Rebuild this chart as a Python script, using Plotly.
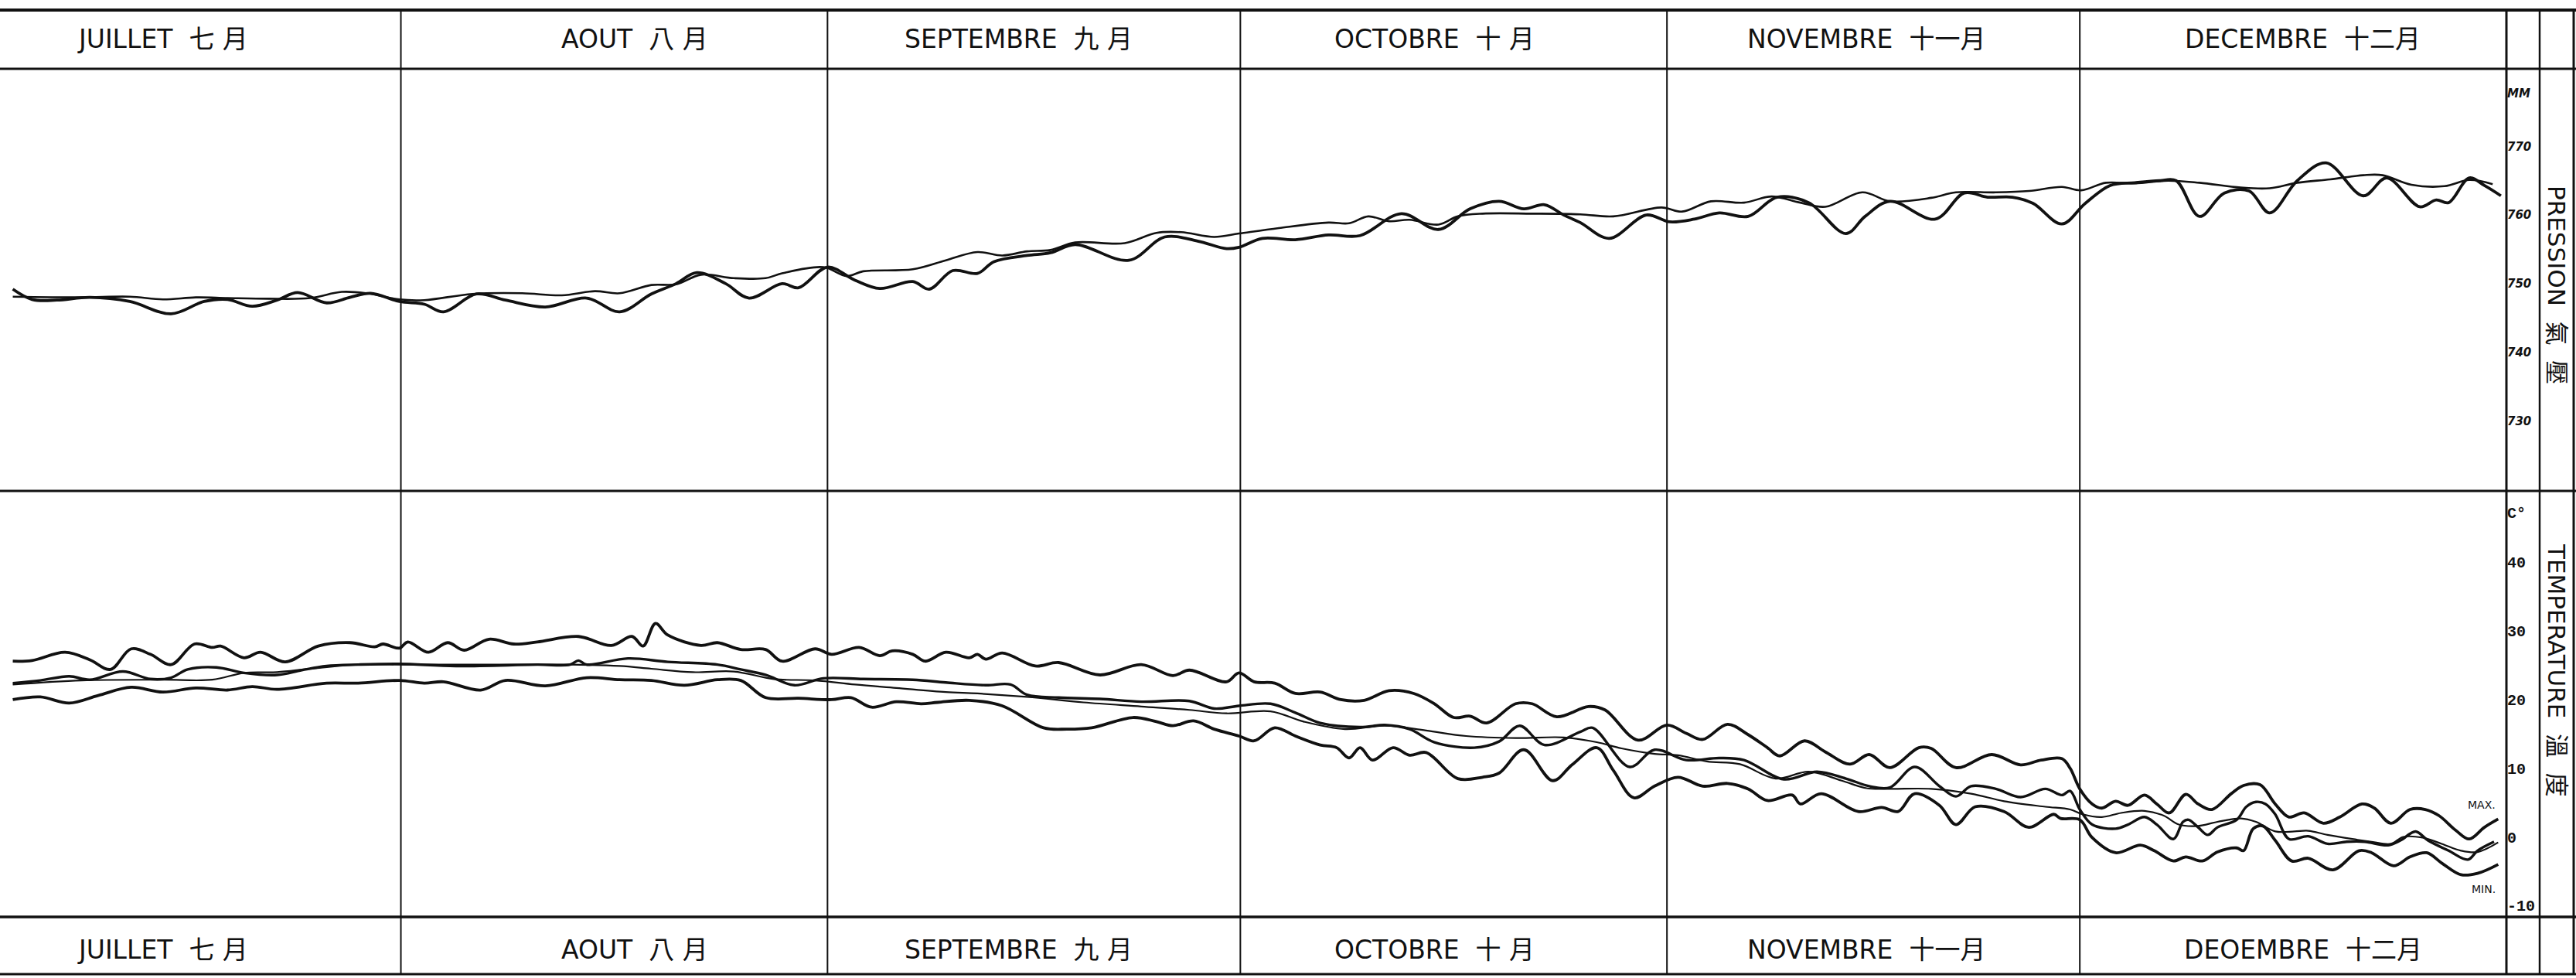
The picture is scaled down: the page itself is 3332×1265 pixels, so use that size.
import plotly.graph_objects as go

# ---------------- data (day of period: 0 = 1 July, 184 = 31 Dec end) ----------------
MONTH_STARTS = [0, 31, 62, 92, 123, 153, 184]
MONTHS_TOP = ["JUILLET\u00a0\u00a0七\u00a0月", "AOUT\u00a0\u00a0八\u00a0月", "SEPTEMBRE\u00a0\u00a0九\u00a0月",
              "OCTOBRE\u00a0\u00a0十\u00a0月", "NOVEMBRE\u00a0\u00a0十一月", "DECEMBRE\u00a0\u00a0十二月"]
MONTHS_BOTTOM = ["JUILLET\u00a0\u00a0七\u00a0月", "AOUT\u00a0\u00a0八\u00a0月", "SEPTEMBRE\u00a0\u00a0九\u00a0月",
                 "OCTOBRE\u00a0\u00a0十\u00a0月", "NOVEMBRE\u00a0\u00a0十一月", "DEOEMBRE\u00a0\u00a0十二月"]
MONTH_LABEL_DAY = [13.7, 48.0, 75.9, 106.1, 137.5, 169.2]

P_TICKS = [730, 740, 750, 760, 770, 777.7]
P_TICKTEXT = ["730", "740", "750", "760", "770", "MM"]
T_TICKS = [-10, 0, 10, 20, 30, 40, 47.2]
T_TICKTEXT = ["-10", "0", "10", "20", "30", "40", "C°"]

# Pressure (mm) – observed
P_OBS_DAY = [2.8, 4.2, 6.0, 8.4, 11.3, 14.3, 16.7, 18.4, 20.2, 22.0, 23.5, 25.6, 27.3, 28.8, 30.9, 32.7,
             34.1, 36.5, 38.6, 41.5, 44.5, 46.9, 49.2, 51.0, 52.5, 54.6, 56.3, 58.7, 59.9, 62.0, 64.0, 65.8,
             68.2, 69.4, 71.1, 72.9, 74.1, 76.5, 78.2, 80.0, 83.9, 86.5, 88.9, 91.0,
             91.9, 93.6, 96.0, 98.4, 100.7, 103.7, 106.4, 108.7, 110.8, 112.6, 114.1, 115.5, 116.7, 118.8,
             121.5, 123.2, 125.0, 126.8, 128.9, 131.0, 133.3, 136.0, 137.4, 139.2, 142.5, 144.6, 146.3,
             148.1, 149.6, 151.7, 153.4, 155.2, 157.0, 158.8, 160.0, 161.7, 163.5, 165.3, 166.8, 168.8,
             170.9, 173.6, 175.3, 177.7, 178.9, 179.8, 181.3, 182.4, 183.6]
P_OBS_MM = [749.2, 747.7, 747.6, 748.0, 747.4, 745.6, 747.4, 747.7, 746.7, 747.6, 748.7, 747.2, 748.0, 748.6,
            747.4, 747.0, 745.9, 748.5, 747.6, 746.6, 747.9, 745.9, 748.5, 750.0, 751.6, 750.0, 747.9, 750.0,
            749.4, 752.4, 750.5, 749.3, 750.3, 749.2, 751.9, 751.5, 753.2, 754.1, 754.5, 755.7, 753.4, 756.8,
            756.2, 755.1,
            755.3, 756.6, 756.4, 757.1, 757.0, 760.2, 757.9, 760.9, 762.0, 760.9, 761.5, 760.0, 758.9, 756.6,
            760.0, 759.0, 759.4, 760.3, 759.8, 762.6, 761.8, 757.3, 759.8, 762.0, 759.4, 763.2, 762.6,
            762.6, 761.7, 758.7, 761.7, 764.3, 764.7, 765.0, 765.0, 759.8, 763.2, 763.5, 760.3, 765.0,
            767.6, 762.8, 765.4, 761.2, 762.2, 761.8, 765.4, 764.3, 762.8]

# Pressure (mm) – normal
P_NOR_DAY = [2.8, 7.8, 11.3, 13.7, 16.1, 18.4, 21.4, 24.4, 26.7, 28.5, 30.9, 32.7, 36.2, 39.8, 42.7, 45.1,
             46.9, 49.2, 51.0, 52.8, 55.2, 57.5, 58.7, 61.7, 63.4, 64.6, 68.2, 70.6, 72.9, 74.7, 76.5, 78.2,
             80.0, 83.6, 85.9, 87.7, 90.1,
             91.9, 94.8, 98.4, 99.9, 101.3, 102.8, 104.3, 106.4, 107.8, 109.6, 113.2, 116.7, 119.1, 122.6,
             124.1, 126.2, 128.6, 130.6, 132.7, 134.5, 137.2, 139.2, 142.2, 144.0, 146.9, 149.3, 151.7,
             153.1, 154.9, 157.0, 159.4, 161.7, 164.7, 166.8, 168.8, 171.2, 173.6, 175.0, 177.1, 179.5,
             181.3, 183.0]
P_NOR_MM = [748.1, 748.0, 748.1, 747.7, 748.0, 747.9, 747.8, 747.9, 748.8, 748.6, 747.7, 747.6, 748.5, 748.6,
            748.3, 748.9, 748.6, 749.8, 749.9, 751.3, 750.8, 750.8, 751.5, 752.4, 751.1, 751.8, 752.1, 753.4,
            754.6, 754.1, 754.7, 754.9, 756.0, 755.9, 757.4, 757.5, 756.8,
            757.3, 758.1, 758.9, 758.8, 759.8, 759.1, 759.3, 758.6, 759.8, 760.2, 760.2, 760.1, 759.8, 761.1,
            760.5, 762.0, 761.8, 762.7, 761.8, 761.2, 763.3, 762.0, 762.5, 763.3, 763.3, 763.5, 764.1,
            763.6, 764.7, 764.6, 765.0, 764.7, 764.0, 763.9, 764.7, 765.2, 765.8, 765.8, 764.4, 764.2,
            765.1, 764.5]

# Temperature (°C) – maximum
T_MAX_DAY = [2.8, 4.2, 6.6, 8.4, 9.9, 11.4, 12.8, 14.3, 16.0, 17.3, 17.9, 19.6, 20.8, 22.6, 25.0, 27.3, 29.1,
             29.7, 30.9, 31.5, 33.0, 34.4, 35.6, 37.4, 39.2, 40.9, 43.9, 46.3, 47.8, 48.6, 49.5, 50.4, 52.8,
             54.0, 55.7, 57.5, 58.7, 61.1, 62.3, 64.3, 65.8, 66.7, 68.2, 69.1, 70.6, 72.3, 72.9, 73.5, 74.7,
             77.1, 78.8, 81.8, 84.8, 87.1, 88.3, 91.0,
             91.9, 93.0, 94.5, 96.0, 97.8, 99.3, 101.0, 102.8, 104.6, 106.1, 107.5, 108.7, 109.9, 112.0,
             113.2, 115.0, 117.3, 118.5, 120.9, 123.0, 124.4, 125.6, 127.4, 128.9, 130.3, 131.2, 133.0,
             134.5, 136.3, 137.7, 139.2, 141.3, 142.2, 144.0, 146.6, 148.7, 150.2, 151.7,
             152.3, 153.0, 153.9, 154.6, 155.6, 156.5, 157.7, 158.6, 159.5, 160.7, 161.6, 162.6, 164.0,
             164.9, 166.1, 167.2, 168.2, 169.3, 170.7, 171.9, 173.5, 174.4, 175.6, 177.0, 178.1, 179.1,
             180.3, 181.3, 182.4, 183.4]
T_MAX_C = [25.6, 25.7, 26.9, 25.8, 24.4, 27.4, 26.6, 25.1, 28.1, 27.6, 27.8, 26.1, 26.9, 25.5, 27.8, 28.3, 27.7,
           28.1, 27.5, 28.4, 26.9, 28.3, 27.2, 28.8, 28.1, 28.4, 29.2, 27.9, 29.2, 27.8, 31.1, 29.4, 27.9,
           28.3, 27.3, 27.3, 25.6, 27.4, 26.6, 27.6, 26.4, 27.1, 26.6, 25.6, 26.9, 26.1, 26.6, 25.9, 26.8,
           24.9, 25.4, 23.6, 25.1, 23.5, 24.3, 22.6,
           23.9, 22.6, 22.4, 20.9, 21.1, 20.0, 19.9, 21.3, 20.9, 19.4, 17.4, 17.6, 16.6, 19.4,
           19.4, 17.5, 19.0, 18.5, 14.1, 16.3, 15.1, 14.2, 16.4, 14.9, 13.0, 11.8, 14.0,
           12.4, 10.6, 12.0, 10.1, 13.0, 12.9, 10.1, 12.0, 10.5, 11.2, 11.4,
           10.0, 7.0, 4.8, 4.2, 5.2, 4.6, 6.1, 4.8, 3.5, 6.2, 4.8, 4.0, 6.3,
           7.5, 7.6, 4.8, 2.9, 3.5, 2.0, 2.9, 4.8, 4.2, 2.0, 4.0, 4.0, 3.1,
           1.0, -0.3, 1.4, 2.6]

# Temperature (°C) – daily mean
T_MEAN_DAY = [2.8, 4.8, 6.9, 8.4, 10.8, 12.8, 14.3, 15.5, 17.6, 19.6, 22.0, 23.8, 25.6, 27.9, 30.9, 35.0,
              40.9, 43.3, 43.9, 44.5, 47.5, 50.4, 54.0, 55.7, 57.5, 59.6, 61.7, 64.6, 68.2, 70.6, 73.5,
              75.3, 76.5, 78.8, 81.8, 84.8, 88.3, 90.1,
              91.9, 94.2, 96.0, 97.8, 100.7, 102.5, 104.3, 106.1, 109.0, 110.8, 112.3, 114.1, 116.7, 117.6,
              120.3, 122.1, 124.4, 126.8, 128.6, 131.5, 133.9, 136.0, 137.7, 139.2, 141.0, 142.8, 144.0,
              145.1, 146.9, 148.7, 150.5, 151.7,
              152.3, 153.0, 153.9, 155.6, 156.5, 157.7, 158.6, 159.8, 160.5, 160.9, 161.6, 162.3, 163.0,
              164.4, 165.1, 165.8, 166.5, 167.2, 168.2, 169.6, 171.0, 172.4, 173.7, 175.4, 176.3, 177.4,
              178.3, 179.8, 181.2, 181.9, 183.1]
T_MEAN_C = [22.4, 22.8, 23.4, 22.9, 24.1, 23.0, 23.2, 24.4, 24.7, 23.9, 23.6, 24.3, 24.9, 25.1, 25.2, 24.9,
            25.1, 25.1, 25.7, 25.1, 26.0, 25.5, 25.1, 24.4, 23.6, 22.1, 23.1, 23.0, 22.9, 22.5, 22.1,
            22.2, 20.7, 20.3, 20.1, 19.7, 19.8, 18.7,
            19.1, 19.4, 18.1, 16.6, 16.0, 16.3, 15.7, 13.8, 13.0, 13.9, 16.2, 13.4, 15.3, 15.9,
            10.2, 12.7, 11.2, 11.5, 11.2, 8.4, 9.5, 8.5, 7.4, 7.2, 10.2, 7.4, 5.9,
            7.4, 7.0, 5.8, 7.0, 6.1,
            6.7, 4.0, 1.8, 1.2, 1.8, 2.9, 1.8, -0.3, 2.2, 2.5, 1.4, 0.3, 1.4,
            2.5, 4.4, 5.1, 4.8, 3.3, -0.3, 0.1, -1.0, -0.7, -0.7, -1.2, -0.5, 0.8,
            -0.5, -2.0, -3.3, -2.0, -0.7]

# Temperature (°C) – normal mean
T_NOR_DAY = [2.8, 7.8, 13.7, 17.3, 19.6, 22.0, 24.4, 27.9, 31.5, 37.4, 43.3, 46.9, 49.2, 52.2, 55.2, 58.1,
             61.1, 64.0, 67.0, 70.6, 72.9, 76.5, 80.6, 84.8, 88.3, 91.0,
             94.2, 96.6, 99.6, 102.5, 105.5, 108.4, 112.0, 115.5, 117.9, 119.7, 122.1, 123.8, 125.9, 128.3,
             130.9, 133.3, 135.7, 137.5, 139.2, 142.2, 145.1, 147.5, 150.5,
             152.3, 153.2, 154.6, 156.0, 157.7, 159.1, 160.2, 161.6, 163.0, 164.7, 165.8, 167.2, 168.6,
             169.6, 171.0, 172.8, 174.2, 175.6, 176.5, 177.9, 179.3, 180.7, 181.9, 183.4]
T_NOR_C = [22.2, 22.8, 22.9, 22.9, 23.9, 24.0, 24.5, 25.1, 25.1, 25.1, 25.1, 24.9, 24.5, 24.0, 24.1, 23.0,
           22.8, 22.2, 21.7, 21.1, 20.9, 20.4, 19.6, 19.0, 18.5, 18.0,
           18.3, 16.8, 15.7, 16.2, 15.5, 14.7, 14.4, 14.5, 13.8, 12.9, 12.1, 11.9, 11.0, 10.6,
           8.5, 9.5, 8.2, 7.1, 7.0, 7.0, 6.3, 5.2, 4.4,
           4.0, 3.3, 2.9, 3.5, 3.8, 3.1, 1.8, 1.6, 2.2, 2.7, 2.2, 0.8, 0.8,
           0.9, 0.3, -0.3, -0.7, -1.0, 0.0, -0.1, -1.0, -2.0, -2.2, -0.8]

# Temperature (°C) – minimum
T_MIN_DAY = [2.8, 4.8, 6.9, 9.0, 11.4, 13.7, 16.1, 18.4, 20.2, 22.0, 25.6, 27.9, 30.9, 32.7, 34.1, 36.8, 38.6,
             41.5, 44.5, 46.9, 49.2, 51.6, 54.0, 55.7, 57.5, 59.9, 62.3, 63.7, 65.2, 67.0, 68.8, 70.0, 72.3,
             74.7, 77.7, 79.4, 81.2, 84.2, 85.9, 87.1, 88.6, 90.1,
             91.9, 93.0, 94.5, 96.0, 97.8, 99.0, 99.9, 100.7, 101.6, 103.1, 104.3, 105.5, 107.8, 109.6,
             110.8, 112.6, 114.7, 116.1, 117.9, 119.1, 120.6, 122.1, 123.8, 125.6, 127.4, 128.9, 130.3,
             132.1, 132.7, 134.2, 136.9, 138.6, 139.8, 141.0, 142.8, 144.0, 145.4, 147.5, 149.3, 151.1,
             151.6, 153.0, 153.9, 155.6, 157.4, 158.4, 159.8, 160.7, 161.9, 163.0, 164.4, 164.9, 165.6,
             166.3, 167.2, 168.4, 169.6, 171.4, 173.3, 174.2, 175.8, 177.0, 178.2, 179.3, 180.7, 181.9,
             183.4]
T_MIN_C = [20.0, 20.4, 19.5, 20.6, 21.8, 21.1, 21.7, 21.4, 21.9, 21.5, 22.4, 22.4, 22.8, 22.4, 22.6, 21.4, 22.8,
           22.0, 23.2, 22.9, 22.8, 22.1, 22.9, 22.8, 20.3, 20.2, 20.0, 20.3, 18.9, 19.7, 19.4, 19.6, 19.9,
           19.1, 15.9, 15.7, 15.9, 17.4, 16.8, 16.2, 16.9, 15.7,
           14.7, 14.0, 15.9, 14.7, 13.4, 13.0, 11.5, 13.0, 11.2, 13.0, 11.9, 12.3, 8.5, 8.7,
           9.3, 12.7, 8.2, 10.5, 13.0, 9.7, 5.7, 7.4, 8.7, 7.4, 7.8, 7.0, 5.3,
           6.1, 4.8, 6.3, 3.7, 4.3, 3.7, 6.3, 4.6, 1.8, 4.4, 3.7, 1.4, 3.3,
           2.7, 2.5, -0.1, -2.3, -1.2, -2.0, -3.5, -2.9, -3.5, -2.2, -1.6, -2.0, 1.2,
           1.6, -0.5, -3.5, -3.1, -4.8, -2.0, -2.3, -4.2, -2.9, -2.3, -3.8, -5.5, -5.3,
           -4.0]

# ---------------- figure ----------------
W, H = 3332, 1265
INK = "#111111"


def py(px):
    return 1 - px / H


def pxx(px):
    return px / W


X_RIGHT = 3242
fig = go.Figure()


def add_line(x, y, axis, width):
    fig.add_trace(go.Scatter(x=x, y=y, yaxis=axis, mode="lines",
                             line=dict(color=INK, width=width, shape="spline", smoothing=1.0),
                             showlegend=False, hoverinfo="skip"))


add_line(P_NOR_DAY, P_NOR_MM, "y", 2.6)
add_line(P_OBS_DAY, P_OBS_MM, "y", 3.8)
add_line(T_NOR_DAY, T_NOR_C, "y2", 2.2)
add_line(T_MEAN_DAY, T_MEAN_C, "y2", 3.4)
add_line(T_MAX_DAY, T_MAX_C, "y2", 3.8)
add_line(T_MIN_DAY, T_MIN_C, "y2", 3.8)

shapes = []
# horizontal frame lines
for ypx, w in [(13, 4), (89, 3), (635, 3), (1186, 3.5), (1260, 3)]:
    shapes.append(dict(type="line", xref="paper", yref="paper", x0=0, x1=1, y0=py(ypx), y1=py(ypx),
                       line=dict(color=INK, width=w)))
# month separators
for d in MONTH_STARTS[1:-1]:
    shapes.append(dict(type="line", xref="x", yref="paper", x0=d, x1=d, y0=py(1260), y1=py(13),
                       line=dict(color=INK, width=2)))
# right-hand columns
for xpx, w in [(X_RIGHT, 3), (3285, 2.5), (3329, 3)]:
    shapes.append(dict(type="line", xref="paper", yref="paper", x0=pxx(xpx), x1=pxx(xpx),
                       y0=py(1260), y1=py(13), line=dict(color=INK, width=w)))

annotations = []
HEAD_FONT = dict(family="DejaVu Sans, Noto Sans CJK JP", size=33, color=INK)
for lab_t, lab_b, d in zip(MONTHS_TOP, MONTHS_BOTTOM, MONTH_LABEL_DAY):
    annotations.append(dict(x=d, xref="x", y=py(51), yref="paper", text=lab_t, showarrow=False,
                            font=HEAD_FONT, xanchor="center", yanchor="middle"))
    annotations.append(dict(x=d, xref="x", y=py(1228), yref="paper", text=lab_b, showarrow=False,
                            font=HEAD_FONT, xanchor="center", yanchor="middle"))

TITLE_FONT = dict(family="DejaVu Sans, Noto Sans CJK JP", size=31, color=INK)
annotations.append(dict(x=pxx(3307), xref="paper", y=py(368), yref="paper",
                        text="PRESSION\u00a0\u00a0氣\u00a0\u00a0壓", textangle=90, showarrow=False,
                        font=TITLE_FONT, xanchor="center", yanchor="middle"))
annotations.append(dict(x=pxx(3307), xref="paper", y=py(867), yref="paper",
                        text="TEMPERATURE\u00a0\u00a0溫\u00a0\u00a0度", textangle=90, showarrow=False,
                        font=TITLE_FONT, xanchor="center", yanchor="middle"))
SMALL = dict(family="DejaVu Sans", size=14, color=INK)
annotations.append(dict(x=183.3, xref="x", y=4.7, yref="y2", text="MAX.", showarrow=False,
                        font=SMALL, xanchor="right", yanchor="middle"))
annotations.append(dict(x=183.3, xref="x", y=-7.6, yref="y2", text="MIN.", showarrow=False,
                        font=SMALL, xanchor="right", yanchor="middle"))

fig.update_layout(
    width=W, height=H, autosize=False,
    margin=dict(l=0, r=0, t=0, b=0, pad=0),
    paper_bgcolor="white", plot_bgcolor="white",
    showlegend=False,
    xaxis=dict(domain=[0, pxx(X_RIGHT)], range=[1.87, 184], visible=False, anchor="y2"),
    yaxis=dict(domain=[py(635), py(89)], range=[719.8, 781.3], side="right", anchor="x",
               tickvals=P_TICKS, ticktext=P_TICKTEXT, ticks="", showgrid=False, zeroline=False,
               showline=False,
               tickfont=dict(family="DejaVu Sans", size=15, color=INK, weight="bold", style="italic")),
    yaxis2=dict(domain=[py(1186), py(635)], range=[-11.65, 50.4], side="right", anchor="x",
                tickvals=T_TICKS, ticktext=T_TICKTEXT, ticks="", showgrid=False, zeroline=False,
                showline=False,
                tickfont=dict(family="Liberation Mono, DejaVu Sans Mono", size=20, color=INK, weight="bold")),
    shapes=shapes,
    annotations=annotations,
)

fig.write_html("out.html", config={"displayModeBar": False},
               post_script="document.body.style.margin='0px';")
